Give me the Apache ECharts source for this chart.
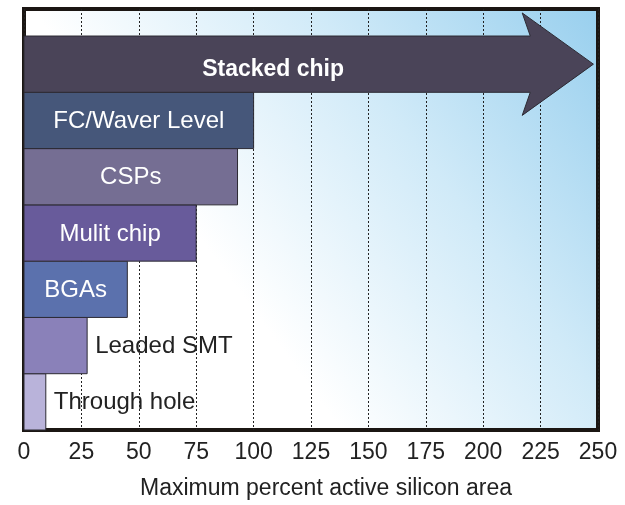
<!DOCTYPE html>
<html>
<head>
<meta charset="utf-8">
<title>Maximum percent active silicon area by package type</title>
<script src="https://cdn.jsdelivr.net/npm/echarts@6/dist/echarts.min.js"></script>
<style>
  html, body { margin: 0; padding: 0; background: #ffffff; }
  #chart { width: 625px; height: 505px; }
</style>
</head>
<body>
<div id="chart"></div>
<script>
// Package technologies, bottom row first
const categories = ['Through hole', 'Leaded SMT', 'BGAs', 'Mulit chip', 'CSPs', 'FC/Waver Level', 'Stacked chip'];
// Maximum percent active silicon area reached by each technology
const maxArea = [9.5, 27.5, 45, 75, 93, 100, 248];
// Technologies that keep growing are drawn as an open-ended arrow
const openEnded = [false, false, false, false, false, false, true];
const barColors = ['#b9b3da', '#8a81b9', '#5b71ad', '#685b9b', '#756e93', '#46577a', '#4a4458'];
const xTicks = [0, 25, 50, 75, 100, 125, 150, 175, 200, 225, 250];
const axisTitle = 'Maximum percent active silicon area';

const FONT = '"Liberation Sans", Arial, Helvetica, sans-serif';
const measureCtx = document.createElement('canvas').getContext('2d');
function textWidth(str, size, weight) {
  measureCtx.font = (weight || 'normal') + ' ' + size + 'px ' + FONT;
  return measureCtx.measureText(str).width;
}

const chart = echarts.init(document.getElementById('chart'), null, { renderer: 'canvas' });

function renderItem(params, api) {
  const i = params.dataIndex;
  const v = api.value(0);
  const row = api.value(1);
  const name = categories[i];
  const topLeft = api.coord([0, row + 1]);
  const botRight = api.coord([v, row]);
  const x0 = topLeft[0], y0 = topLeft[1];
  const x1 = botRight[0], y1 = botRight[1];
  const h = y1 - y0;
  const children = [];

  if (openEnded[i]) {
    // Arrow: shaft across the row, head overhanging above and below
    const headBack = api.coord([v - 31, row])[0];
    const neck = api.coord([v - 27.5, row])[0];
    const midY = (y0 + y1) / 2;
    const headHalf = h * 0.91;
    children.push({
      type: 'polygon',
      shape: {
        points: [
          [x0, y0], [neck, y0], [headBack, midY - headHalf], [x1, midY],
          [headBack, midY + headHalf], [neck, y1], [x0, y1]
        ]
      },
      style: { fill: barColors[i], stroke: '#2c2a33', lineWidth: 1 }
    });
    children.push({
      type: 'text',
      x: (x0 + headBack) / 2,
      y: midY + 5,
      style: {
        text: name, fill: '#ffffff', fontSize: 23, fontWeight: 'bold',
        fontFamily: FONT, align: 'center', verticalAlign: 'middle'
      }
    });
  } else {
    children.push({
      type: 'rect',
      shape: { x: x0, y: y0, width: x1 - x0, height: h },
      style: { fill: barColors[i], stroke: '#2c2a33', lineWidth: 1 }
    });
    const w = textWidth(name, 24);
    const inside = w + 20 < x1 - x0;
    children.push({
      type: 'text',
      x: inside ? (x0 + x1) / 2 : x1 + 8,
      y: (y0 + y1) / 2 + 1,
      style: {
        text: name, fill: inside ? '#ffffff' : '#222222', fontSize: 24,
        fontFamily: FONT, align: inside ? 'center' : 'left', verticalAlign: 'middle'
      }
    });
  }
  return { type: 'group', children: children };
}

const option = {
  animation: false,
  grid: {
    left: 24, right: 27, top: 9, bottom: 74,
    show: true,
    borderColor: '#1b1613',
    borderWidth: 4,
    backgroundColor: new echarts.graphic.LinearGradient(0, 1, 1, 0, [
      { offset: 0, color: '#ffffff' },
      { offset: 0.36, color: '#ffffff' },
      { offset: 0.68, color: '#d0eaf8' },
      { offset: 1, color: '#98cfee' }
    ])
  },
  xAxis: {
    type: 'value',
    min: xTicks[0],
    max: xTicks[xTicks.length - 1],
    interval: xTicks[1] - xTicks[0],
    axisLine: { show: false },
    axisTick: { show: false },
    axisLabel: {
      margin: 11,
      color: '#222222',
      fontSize: 23,
      fontFamily: FONT
    },
    splitLine: {
      show: true,
      lineStyle: { color: '#222222', width: 1, type: [2, 2] }
    },
    name: axisTitle,
    nameLocation: 'middle',
    nameGap: 47,
    nameTextStyle: {
      color: '#222222',
      fontSize: 23,
      fontFamily: FONT,
      padding: [0, 0, 0, 30]
    }
  },
  yAxis: {
    type: 'value',
    min: 0,
    max: categories.length + 0.48,
    show: false
  },
  series: [{
    type: 'custom',
    renderItem: renderItem,
    encode: { x: 0, y: 1 },
    data: maxArea.map((v, i) => [v, i])
  }]
};

chart.setOption(option);
</script>
</body>
</html>
